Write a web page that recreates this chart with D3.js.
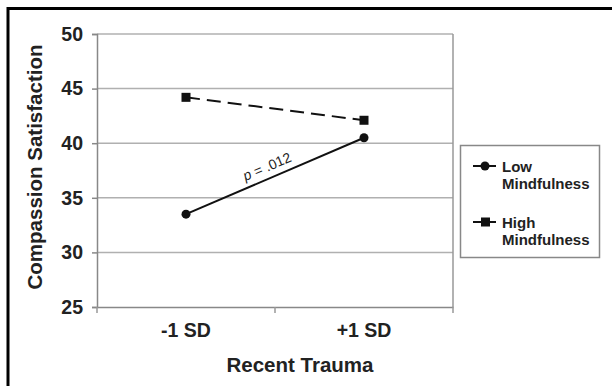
<!DOCTYPE html>
<html>
<head>
<meta charset="utf-8">
<script src="https://cdn.jsdelivr.net/npm/d3@7"></script>
<style>
body{margin:0;background:#fff;}
text{font-family:"Liberation Sans",Arial,sans-serif;}
</style>
</head>
<body>
<script>
var categories = ['-1 SD','+1 SD'];
var lowMind = [33.5, 40.5];
var highMind = [44.2, 42.1];
var yTicks = [25,30,35,40,45,50];
var seriesNames = ['Low Mindfulness','High Mindfulness'];

var W = 612, H = 387;
var svg = d3.select("body").append("svg").attr("width",W).attr("height",H);

// outer frame (top and left only are visible)
svg.append("line").attr("x1",7).attr("x2",W).attr("y1",8.5).attr("y2",8.5)
    .attr("stroke","#000").attr("stroke-width",3);
svg.append("line").attr("x1",8).attr("x2",8).attr("y1",7).attr("y2",386)
    .attr("stroke","#000").attr("stroke-width",3);

var x = d3.scaleBand().domain(categories).range([97,453]);
var y = d3.scaleLinear().domain([25,50]).range([307,34]);

// gridlines
svg.selectAll("line.grid")
    .data(yTicks.slice(1))
    .enter().append("line")
        .attr("class","grid")
        .attr("x1",97).attr("x2",453)
        .attr("y1",function(d){return y(d);})
        .attr("y2",function(d){return y(d);})
        .attr("stroke","#b0b0b0").attr("stroke-width",1.5);

// right border of plot
svg.append("line").attr("x1",453).attr("x2",453).attr("y1",y(50)).attr("y2",y(25))
    .attr("stroke","#999").attr("stroke-width",1.5);

var yAxis = d3.axisLeft(y).tickValues(yTicks).tickSize(5).tickPadding(9);
var gy = svg.append("g").attr("transform","translate(97,0)").call(yAxis);
var xAxis = d3.axisBottom(x).tickSize(0).tickPadding(16);
var gx = svg.append("g").attr("transform","translate(0,307)").call(xAxis);

[gy,gx].forEach(function(g){
    g.select(".domain").attr("stroke","#888").attr("stroke-width",1.5);
    g.selectAll(".tick line").attr("stroke","#888").attr("stroke-width",1.5);
    g.selectAll("text").attr("font-size",19.5).attr("font-weight","bold").attr("fill","#222")
        .style("font-family","'Liberation Sans',Arial,sans-serif");
});
// category divider ticks
svg.selectAll("line.xtick")
    .data([97, x(categories[1]), 453])
    .enter().append("line")
        .attr("class","xtick")
        .attr("x1",function(d){return d;}).attr("x2",function(d){return d;})
        .attr("y1",307).attr("y2",313)
        .attr("stroke","#999").attr("stroke-width",1.5);

var cx = function(d,i){return x(categories[i]) + x.bandwidth()/2;};
var line = d3.line().x(function(d,i){return cx(d,i);}).y(function(d){return y(d);});

svg.append("path").attr("d",line(highMind))
    .attr("fill","none").attr("stroke","#111").attr("stroke-width",2)
    .attr("stroke-dasharray","14,7");
svg.append("path").attr("d",line(lowMind))
    .attr("fill","none").attr("stroke","#111").attr("stroke-width",2);

svg.selectAll("rect.hm")
    .data(highMind)
    .enter().append("rect")
        .attr("class","hm")
        .attr("x",function(d,i){return cx(d,i)-4.5;})
        .attr("y",function(d){return y(d)-4.5;})
        .attr("width",9).attr("height",9).attr("fill","#111");
svg.selectAll("circle.lm")
    .data(lowMind)
    .enter().append("circle")
        .attr("class","lm")
        .attr("cx",function(d,i){return cx(d,i);})
        .attr("cy",function(d){return y(d);})
        .attr("r",4.5).attr("fill","#111");

// p annotation along the low line
var ang = Math.atan2(y(lowMind[1])-y(lowMind[0]), cx(0,1)-cx(0,0))*180/Math.PI;
var pt = svg.append("text")
    .attr("transform","translate(269,171) rotate("+ang+")")
    .attr("text-anchor","middle")
    .attr("font-size",14).attr("fill","#222");
pt.append("tspan").attr("font-style","italic").text("p");
pt.append("tspan").text(" = .012");

// axis titles
svg.append("text")
    .attr("x",300).attr("y",372)
    .attr("text-anchor","middle")
    .attr("font-size",20.5).attr("font-weight","bold").attr("fill","#222")
    .text("Recent Trauma");
svg.append("text")
    .attr("transform","translate(42,167) rotate(-90)")
    .attr("text-anchor","middle")
    .attr("font-size",20.5).attr("font-weight","bold").attr("fill","#222")
    .text("Compassion Satisfaction");

// legend
svg.append("rect").attr("x",460.5).attr("y",145.5).attr("width",139).attr("height",112)
    .attr("fill","#fff").attr("stroke","#888").attr("stroke-width",1.5);
var leg = svg.selectAll("g.leg")
    .data(seriesNames)
    .enter().append("g")
        .attr("class","leg")
        .attr("transform",function(d,i){return "translate(473,"+(166+i*56)+")";});
leg.append("line").attr("x1",0).attr("x2",23).attr("y1",0).attr("y2",0)
    .attr("stroke","#111").attr("stroke-width",2);
leg.each(function(d,i){
    var g = d3.select(this);
    if(i==0) g.append("circle").attr("cx",12).attr("cy",0).attr("r",4.5).attr("fill","#111");
    else g.append("rect").attr("x",8).attr("y",-4.5).attr("width",9).attr("height",9).attr("fill","#111");
});
var lt = leg.append("text")
    .attr("x",29).attr("y",6)
    .attr("font-size",15).attr("font-weight","bold").attr("fill","#222");
lt.append("tspan").text(function(d){return d.split(" ")[0];});
lt.append("tspan").attr("x",29).attr("dy",17).text(function(d){return d.split(" ")[1];});
</script>
</body>
</html>
